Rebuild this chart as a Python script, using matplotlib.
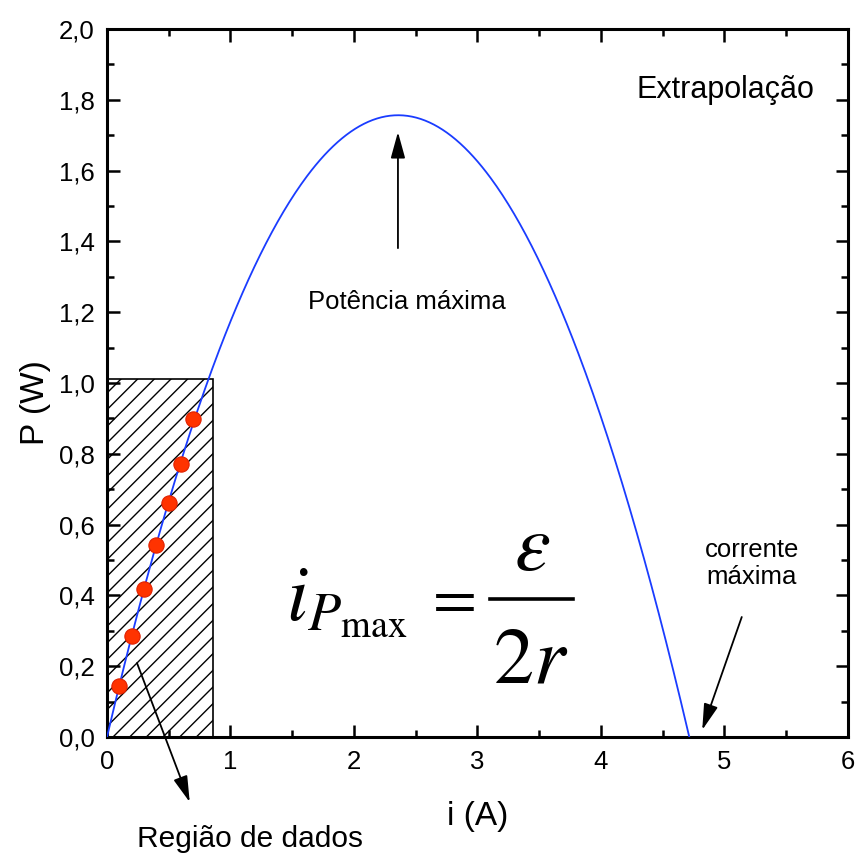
import numpy as np
import matplotlib.pyplot as plt
from matplotlib.patches import Rectangle

plt.rcParams['font.family'] = ['Liberation Sans', 'DejaVu Sans']
plt.rcParams['mathtext.fontset'] = 'stix'
plt.rcParams['hatch.linewidth'] = 1.0

# measured points (data region)
current = [0.1, 0.2, 0.3, 0.4, 0.5, 0.6, 0.7]
power = [0.145, 0.285, 0.417, 0.542, 0.662, 0.772, 0.899]

# fitted generator: P = emf*i - r*i^2
emf = 1.49
r_int = 0.316

region_i = 0.86
region_p = 1.01

x_ticks = [0, 1, 2, 3, 4, 5, 6]
y_ticks = [0.0, 0.2, 0.4, 0.6, 0.8, 1.0, 1.2, 1.4, 1.6, 1.8, 2.0]

fig = plt.figure(figsize=(8.65, 8.58), dpi=100)
ax = fig.add_axes([0.1237, 0.141, 0.8566, 0.8252])

# hatched region of measured data
ax.add_patch(Rectangle((0, 0), region_i, region_p, fill=False,
                       hatch='//', edgecolor='black', linewidth=1.2))

i_fit = np.linspace(0, emf / r_int, 400)
ax.plot(i_fit, emf * i_fit - r_int * i_fit ** 2, color='#1a3cff', lw=1.3, zorder=3)

ax.plot(current, power, 'o', color='#ff3300', markersize=11,
        markeredgecolor='#e02000', markeredgewidth=0.8, zorder=4)

ax.set_xlim(0, 6)
ax.set_ylim(0, 2.0)
ax.set_xticks(x_ticks)
ax.set_xticklabels([str(t) for t in x_ticks])
ax.set_yticks(y_ticks)
ax.set_yticklabels([f"{t:.1f}".replace('.', ',') for t in y_ticks])
ax.set_xticks(np.arange(0.5, 6, 1.0), minor=True)
ax.set_yticks(np.arange(0.1, 2.0, 0.2), minor=True)

ax.tick_params(which='both', direction='in', top=True, right=True,
               width=1.8, labelsize=18.5)
ax.tick_params(which='major', length=9, pad=9)
ax.tick_params(which='minor', length=5)
for s in ax.spines.values():
    s.set_linewidth(2.2)

ax.set_xlabel('i (A)', fontsize=24)
ax.set_ylabel('P (W)', fontsize=24)
ax.xaxis.label.set_va('center')
ax.yaxis.label.set_va('center')
ax.xaxis.set_label_coords(0.5, -0.112)
ax.yaxis.set_label_coords(-0.097, 0.473)

# annotations
ax.text(5.01, 1.828, 'Extrapolação', fontsize=22, ha='center', va='center')
ax.text(2.43, 1.229, 'Potência máxima', fontsize=18.5, ha='center', va='center')
ax.text(5.22, 0.49, 'corrente\nmáxima', fontsize=18.5, ha='center', va='center',
        linespacing=1.15)
ax.text(0.243, -0.311, 'Região de dados', fontsize=21.5, ha='left', va='baseline',
        clip_on=False)

arrow = dict(arrowstyle='-|>,head_length=0.8,head_width=0.22',
             color='black', lw=1.3, mutation_scale=20, shrinkA=0, shrinkB=0)
ax.annotate('', xy=(2.356, 1.709), xytext=(2.356, 1.381), arrowprops=arrow)
ax.annotate('', xy=(4.82, 0.02), xytext=(5.14, 0.339), arrowprops=arrow)
ax.annotate('', xy=(0.67, -0.184), xytext=(0.243, 0.209), arrowprops=arrow,
            annotation_clip=False)

# formula i_Pmax = eps / 2r
ax.text(1.45, 0.33, r'$i_{P_{\mathrm{max}}}$', fontsize=56, ha='left', va='baseline')
ax.text(2.77, 0.387, r'$=$', fontsize=46, ha='center', va='center')
ax.plot([3.10, 3.77], [0.39, 0.39], color='black', lw=2.6)
ax.text(3.44, 0.472, r'$\varepsilon$', fontsize=58, ha='center', va='baseline')
ax.text(3.43, 0.155, r'$2r$', fontsize=58, ha='center', va='baseline')

fig.savefig('out.png', dpi=100)
